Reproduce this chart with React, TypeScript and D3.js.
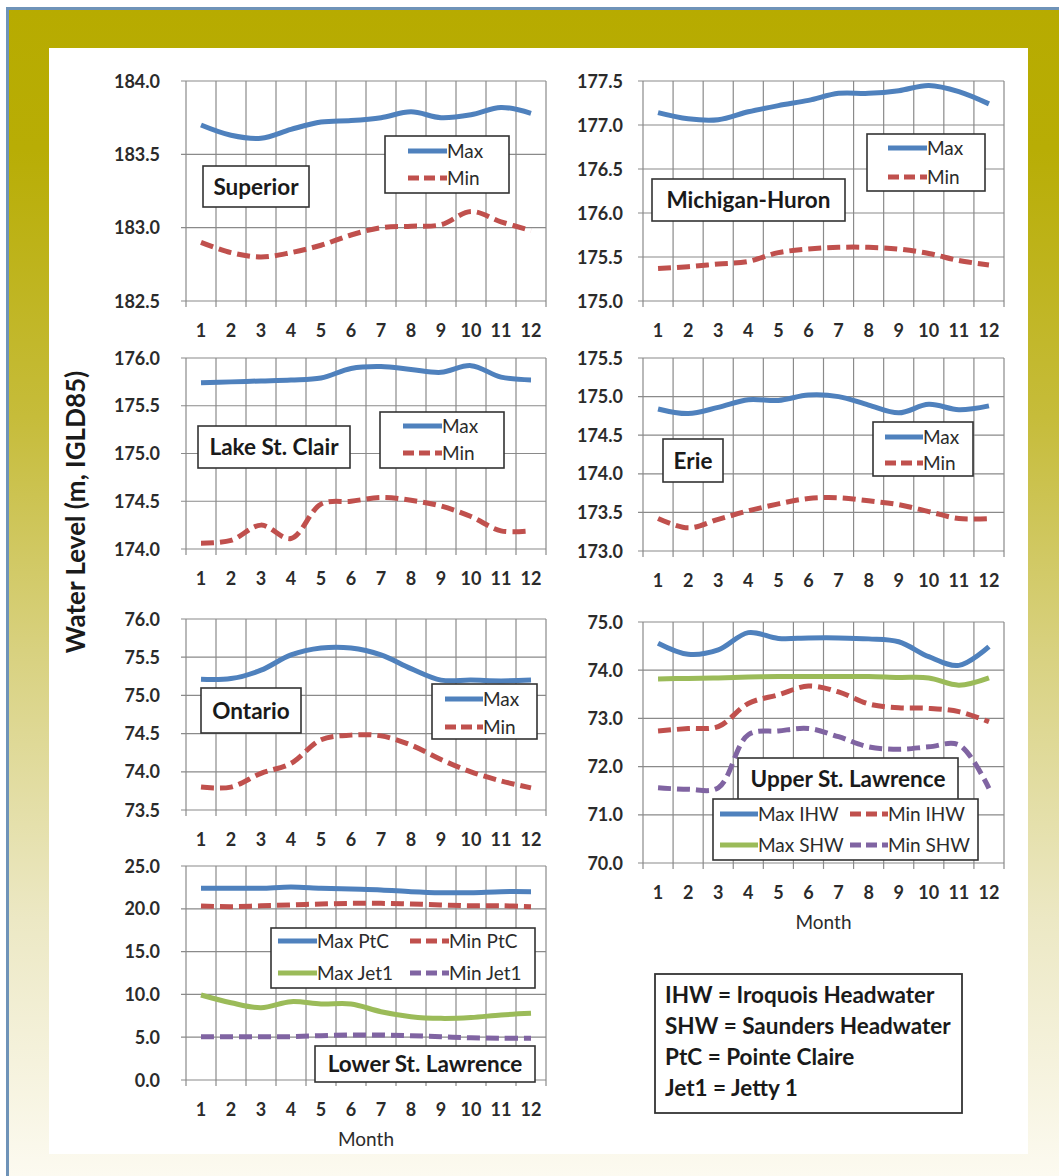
import React from 'react';
import * as d3 from 'd3';

// ---------- data ----------
const MONTHS = ['1', '2', '3', '4', '5', '6', '7', '8', '9', '10', '11', '12'];

const superiorMax = [183.70, 183.63, 183.61, 183.67, 183.72, 183.73, 183.75, 183.79, 183.75, 183.77, 183.82, 183.78];
const superiorMin = [182.90, 182.83, 182.80, 182.83, 182.88, 182.95, 183.00, 183.01, 183.02, 183.11, 183.04, 182.98];

const michiganMax = [177.14, 177.07, 177.06, 177.15, 177.22, 177.28, 177.36, 177.36, 177.39, 177.45, 177.38, 177.24];
const michiganMin = [175.37, 175.39, 175.42, 175.45, 175.55, 175.59, 175.61, 175.61, 175.59, 175.54, 175.46, 175.41];

const stClairMax = [175.74, 175.75, 175.76, 175.77, 175.79, 175.89, 175.91, 175.88, 175.85, 175.92, 175.80, 175.77];
const stClairMin = [174.06, 174.09, 174.25, 174.11, 174.47, 174.50, 174.54, 174.51, 174.45, 174.34, 174.19, 174.19];

const erieMax = [174.84, 174.78, 174.86, 174.96, 174.95, 175.02, 175.00, 174.89, 174.79, 174.90, 174.83, 174.88];
const erieMin = [173.42, 173.30, 173.41, 173.52, 173.61, 173.68, 173.69, 173.65, 173.60, 173.51, 173.42, 173.42];

const ontarioMax = [75.21, 75.22, 75.33, 75.53, 75.62, 75.62, 75.53, 75.35, 75.20, 75.20, 75.19, 75.20];
const ontarioMin = [73.80, 73.80, 73.98, 74.11, 74.42, 74.48, 74.47, 74.35, 74.16, 74.00, 73.88, 73.79];

const upperMaxIHW = [74.56, 74.33, 74.42, 74.78, 74.66, 74.67, 74.67, 74.65, 74.59, 74.28, 74.10, 74.49];
const upperMinIHW = [72.74, 72.79, 72.83, 73.31, 73.49, 73.67, 73.55, 73.30, 73.22, 73.21, 73.14, 72.93];
const upperMaxSHW = [73.82, 73.83, 73.84, 73.86, 73.87, 73.87, 73.87, 73.87, 73.85, 73.84, 73.69, 73.84];
const upperMinSHW = [71.56, 71.53, 71.56, 72.66, 72.74, 72.79, 72.62, 72.41, 72.36, 72.41, 72.45, 71.55];

const lowerMaxPtC = [22.4, 22.4, 22.4, 22.55, 22.4, 22.3, 22.2, 22.0, 21.88, 21.88, 22.0, 22.0];
const lowerMinPtC = [20.33, 20.25, 20.35, 20.45, 20.56, 20.64, 20.64, 20.56, 20.45, 20.35, 20.35, 20.25];
const lowerMaxJet1 = [9.93, 9.03, 8.45, 9.15, 8.88, 8.88, 7.98, 7.40, 7.20, 7.30, 7.60, 7.79];
const lowerMinJet1 = [5.06, 5.06, 5.06, 5.06, 5.18, 5.26, 5.26, 5.18, 5.06, 4.93, 4.87, 4.87];

const DEFINITIONS = [
  'IHW = Iroquois Headwater',
  'SHW = Saunders Headwater',
  'PtC = Pointe Claire',
  'Jet1 = Jetty 1',
];

// ---------- styles ----------
const BLUE = '#4F81BD';
const RED = '#C0504D';
const GREEN = '#9BBB59';
const PURPLE = '#8064A2';
const FONT = 'Lato, "Open Sans", sans-serif';
const GRID = '#8a8a8a';
const TEXT = '#2b2b2b';
const DASH = '13 6';

type Series = { name: string; values: number[]; color: string; dashed: boolean };

type PanelCfg = {
  title: string;
  x0: number; x1: number; yTop: number; yBot: number;
  domain: [number, number]; step: number;
  labelRight: number;
  series: Series[];
  legend: { x: number; y: number; w: number; h: number; cols: number; rowY: number[]; colX: number[]; lineLen: number };
  titleBox: { x: number; y: number; w: number; h: number };
  monthTitle?: boolean;
};

const twoSeries = (mx: number[], mn: number[]): Series[] => [
  { name: 'Max', values: mx, color: BLUE, dashed: false },
  { name: 'Min', values: mn, color: RED, dashed: true },
];

const panels: PanelCfg[] = [
  {
    title: 'Superior', x0: 186, x1: 546, yTop: 81, yBot: 301, domain: [182.5, 184.0], step: 0.5, labelRight: 160,
    series: twoSeries(superiorMax, superiorMin),
    legend: { x: 385, y: 136, w: 124, h: 57, cols: 1, rowY: [15, 42], colX: [23], lineLen: 39 },
    titleBox: { x: 203, y: 166, w: 106, h: 41 },
  },
  {
    title: 'Michigan-Huron', x0: 643, x1: 1004, yTop: 81, yBot: 301, domain: [175.0, 177.5], step: 0.5, labelRight: 623,
    series: twoSeries(michiganMax, michiganMin),
    legend: { x: 867, y: 134, w: 118, h: 57, cols: 1, rowY: [14, 43], colX: [21], lineLen: 39 },
    titleBox: { x: 652, y: 179, w: 193, h: 42 },
  },
  {
    title: 'Lake St. Clair', x0: 186, x1: 546, yTop: 358, yBot: 549, domain: [174.0, 176.0], step: 0.5, labelRight: 160,
    series: twoSeries(stClairMax, stClairMin),
    legend: { x: 380, y: 412, w: 124, h: 56, cols: 1, rowY: [14, 41], colX: [23], lineLen: 39 },
    titleBox: { x: 198, y: 426, w: 152, h: 42 },
  },
  {
    title: 'Erie', x0: 643, x1: 1004, yTop: 358, yBot: 551, domain: [173.0, 175.5], step: 0.5, labelRight: 623,
    series: twoSeries(erieMax, erieMin),
    legend: { x: 873, y: 422, w: 100, h: 54, cols: 1, rowY: [15, 41], colX: [12], lineLen: 38 },
    titleBox: { x: 663, y: 439, w: 60, h: 43 },
  },
  {
    title: 'Ontario', x0: 186, x1: 546, yTop: 619, yBot: 810, domain: [73.5, 76.0], step: 0.5, labelRight: 160,
    series: twoSeries(ontarioMax, ontarioMin),
    legend: { x: 432, y: 684, w: 105, h: 55, cols: 1, rowY: [15, 43], colX: [13], lineLen: 38 },
    titleBox: { x: 201, y: 688, w: 100, h: 45 },
  },
  {
    title: 'Upper St. Lawrence', x0: 643, x1: 1004, yTop: 622, yBot: 863, domain: [70.0, 75.0], step: 1, labelRight: 623,
    series: [
      { name: 'Max IHW', values: upperMaxIHW, color: BLUE, dashed: false },
      { name: 'Min IHW', values: upperMinIHW, color: RED, dashed: true },
      { name: 'Max SHW', values: upperMaxSHW, color: GREEN, dashed: false },
      { name: 'Min SHW', values: upperMinSHW, color: PURPLE, dashed: true },
    ],
    legend: { x: 713, y: 799, w: 265, h: 61, cols: 2, rowY: [15, 46], colX: [7, 137], lineLen: 38 },
    titleBox: { x: 738, y: 758, w: 220, h: 42 },
    monthTitle: true,
  },
  {
    title: 'Lower St. Lawrence', x0: 186, x1: 546, yTop: 866, yBot: 1080, domain: [0, 25], step: 5, labelRight: 160,
    series: [
      { name: 'Max PtC', values: lowerMaxPtC, color: BLUE, dashed: false },
      { name: 'Min PtC', values: lowerMinPtC, color: RED, dashed: true },
      { name: 'Max Jet1', values: lowerMaxJet1, color: GREEN, dashed: false },
      { name: 'Min Jet1', values: lowerMinJet1, color: PURPLE, dashed: true },
    ],
    legend: { x: 271, y: 928, w: 264, h: 60, cols: 2, rowY: [13, 45], colX: [7, 139], lineLen: 39 },
    titleBox: { x: 315, y: 1046, w: 220, h: 36 },
    monthTitle: true,
  },
];

function Panel({ cfg }: { cfg: PanelCfg }) {
  const x = d3.scaleBand<string>().domain(MONTHS).range([cfg.x0, cfg.x1]).padding(0);
  const y = d3.scaleLinear().domain(cfg.domain).range([cfg.yBot, cfg.yTop]);
  const n = Math.round((cfg.domain[1] - cfg.domain[0]) / cfg.step);
  const ticks = d3.range(n + 1).map((i) => cfg.domain[0] + i * cfg.step);
  const bounds = MONTHS.map((m) => x(m) as number).concat([cfg.x1]);
  const fmt = d3.format('.1f');
  const line = d3
    .line<number>()
    .x((_, i) => (x(MONTHS[i]) as number) + x.bandwidth() / 2)
    .y((d) => y(d))
    .curve(d3.curveCatmullRom.alpha(0.5));

  const lg = cfg.legend;
  const tb = cfg.titleBox;
  return (
    <g>
      {ticks.map((t) => (
        <line key={'h' + t} x1={cfg.x0 - 5} x2={cfg.x1} y1={y(t)} y2={y(t)} stroke={GRID} strokeWidth={1.2} />
      ))}
      {bounds.map((b, i) => (
        <line key={'v' + i} x1={b} x2={b} y1={cfg.yTop} y2={cfg.yBot + 6} stroke={GRID} strokeWidth={1.2} />
      ))}
      {ticks.map((t) => (
        <text key={'yl' + t} x={cfg.labelRight} y={y(t) + 6.5} textAnchor="end" fontFamily={FONT} fontWeight="bold" fontSize={18} fill={TEXT}>
          {fmt(t)}
        </text>
      ))}
      {MONTHS.map((m) => (
        <text key={'xl' + m} x={(x(m) as number) + x.bandwidth() / 2} y={cfg.yBot + 36} textAnchor="middle" fontFamily={FONT} fontWeight="bold" fontSize={18} fill={TEXT}>
          {m}
        </text>
      ))}
      {cfg.monthTitle && (
        <text x={(cfg.x0 + cfg.x1) / 2} y={cfg.yBot + 66} textAnchor="middle" fontFamily={FONT} fontSize={19} fill={TEXT}>
          Month
        </text>
      )}
      {cfg.series.map((s) => (
        <path key={s.name} d={line(s.values) as string} fill="none" stroke={s.color} strokeWidth={5}
          strokeDasharray={s.dashed ? DASH : undefined} strokeLinejoin="round" />
      ))}
      <rect x={tb.x} y={tb.y} width={tb.w} height={tb.h} fill="#fff" stroke="#333" strokeWidth={1.6} />
      <text x={tb.x + tb.w / 2} y={tb.y + tb.h / 2 + 8} textAnchor="middle" fontFamily={FONT} fontWeight="bold" fontSize={22.5} fill="#1a1a1a">
        {cfg.title}
      </text>
      <rect x={lg.x} y={lg.y} width={lg.w} height={lg.h} fill="#fff" stroke="#333" strokeWidth={1.6} />
      {cfg.series.map((s, i) => {
        const col = i % lg.cols;
        const row = Math.floor(i / lg.cols);
        const lx = lg.x + lg.colX[col];
        const ly = lg.y + lg.rowY[row];
        return (
          <g key={'lg' + s.name}>
            <line x1={lx} x2={lx + lg.lineLen} y1={ly} y2={ly} stroke={s.color} strokeWidth={5}
              strokeDasharray={s.dashed ? '11 5' : undefined} />
            <text x={lx + lg.lineLen} y={ly + 6.5} fontFamily={FONT} fontSize={19} fill={TEXT}>{s.name}</text>
          </g>
        );
      })}
    </g>
  );
}

export default function App() {
  return (
    <svg width={1059} height={1176} style={{ position: 'absolute', left: 0, top: 0, display: 'block' }}>
      <defs>
        <linearGradient id="bg" x1="0" y1="0" x2="0" y2="1">
          <stop offset="0" stopColor="#b7ab00" />
          <stop offset="0.12" stopColor="#b8ad05" />
          <stop offset="0.35" stopColor="#c6bc3a" />
          <stop offset="0.55" stopColor="#d8d17f" />
          <stop offset="0.78" stopColor="#ece8c4" />
          <stop offset="1" stopColor="#fcfaf0" />
        </linearGradient>
      </defs>
      <rect x={0} y={0} width={1059} height={1176} fill="#fff" />
      <rect x={7} y={8} width={1052} height={1168} fill="url(#bg)" />
      <path d="M7.5,1176 V8.5 H1059" fill="none" stroke="#6f93b8" strokeWidth={3} />
      <rect x={49} y={48} width={979} height={1106} fill="#ffffff" />

      <text transform="translate(85,512) rotate(-90)" textAnchor="middle" fontFamily={FONT} fontWeight="bold" fontSize={26} fill="#1a1a1a">
        Water Level (m, IGLD85)
      </text>

      {panels.map((p) => (
        <Panel key={p.title} cfg={p} />
      ))}

      <rect x={655} y={974} width={307} height={139} fill="#fff" stroke="#333" strokeWidth={1.8} />
      {DEFINITIONS.map((d, i) => (
        <text key={d} x={665} y={1003 + i * 31} fontFamily={FONT} fontWeight="bold" fontSize={22.5} fill="#1a1a1a">
          {d}
        </text>
      ))}
    </svg>
  );
}
